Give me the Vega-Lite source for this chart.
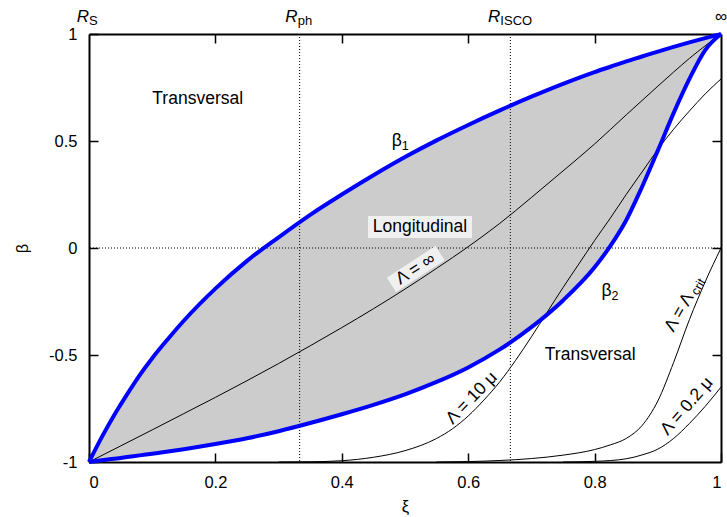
{
  "$schema": "https://vega.github.io/schema/vega-lite/v6.json",
  "width": 632,
  "height": 428,
  "autosize": {"type": "none"},
  "padding": {"left": 89, "top": 34, "right": 6, "bottom": 55},
  "config": {
    "view": {"stroke": null},
    "font": "Liberation Sans",
    "axis": {
      "grid": false,
      "domainColor": "black",
      "domainWidth": 2,
      "tickColor": "black",
      "tickWidth": 1.5,
      "tickSize": -9,
      "labelFont": "Liberation Sans",
      "labelFontSize": 16.5,
      "labelColor": "black",
      "titleFont": "Liberation Sans",
      "titleFontSize": 16.5,
      "titleFontWeight": "normal",
      "titleColor": "black"
    },
    "text": {"font": "Liberation Sans", "fontSize": 16, "color": "black"}
  },
  "datasets": {
    "bounds": [
      {"xi": 0, "b1": -1, "b2": -1},
      {"xi": 0.02, "b1": -0.885, "b2": -0.992},
      {"xi": 0.04, "b1": -0.78, "b2": -0.985},
      {"xi": 0.05, "b1": -0.732, "b2": -0.981},
      {"xi": 0.06, "b1": -0.685, "b2": -0.977},
      {"xi": 0.08, "b1": -0.595, "b2": -0.969},
      {"xi": 0.1, "b1": -0.515, "b2": -0.961},
      {"xi": 0.125, "b1": -0.425, "b2": -0.951},
      {"xi": 0.15, "b1": -0.34, "b2": -0.94},
      {"xi": 0.2, "b1": -0.19, "b2": -0.916},
      {"xi": 0.25, "b1": -0.06, "b2": -0.889},
      {"xi": 0.3, "b1": 0.05, "b2": -0.856},
      {"xi": 0.35, "b1": 0.155, "b2": -0.818},
      {"xi": 0.4, "b1": 0.25, "b2": -0.777},
      {"xi": 0.45, "b1": 0.34, "b2": -0.733},
      {"xi": 0.5, "b1": 0.425, "b2": -0.684},
      {"xi": 0.55, "b1": 0.503, "b2": -0.626},
      {"xi": 0.6, "b1": 0.575, "b2": -0.558},
      {"xi": 0.65, "b1": 0.643, "b2": -0.474},
      {"xi": 0.7, "b1": 0.707, "b2": -0.37},
      {"xi": 0.75, "b1": 0.767, "b2": -0.245},
      {"xi": 0.8, "b1": 0.822, "b2": -0.09},
      {"xi": 0.825, "b1": 0.847, "b2": 0.01},
      {"xi": 0.85, "b1": 0.872, "b2": 0.13},
      {"xi": 0.875, "b1": 0.895, "b2": 0.285},
      {"xi": 0.9, "b1": 0.918, "b2": 0.455},
      {"xi": 0.925, "b1": 0.94, "b2": 0.63},
      {"xi": 0.95, "b1": 0.961, "b2": 0.79},
      {"xi": 0.975, "b1": 0.981, "b2": 0.925},
      {"xi": 1, "b1": 1, "b2": 1}
    ],
    "lambda": [
      {"c": "inf", "xi": 0, "b": -1},
      {"c": "inf", "xi": 0.05, "b": -0.925},
      {"c": "inf", "xi": 0.1, "b": -0.85},
      {"c": "inf", "xi": 0.15, "b": -0.774},
      {"c": "inf", "xi": 0.2, "b": -0.698},
      {"c": "inf", "xi": 0.25, "b": -0.62},
      {"c": "inf", "xi": 0.3, "b": -0.54},
      {"c": "inf", "xi": 0.35, "b": -0.457},
      {"c": "inf", "xi": 0.4, "b": -0.372},
      {"c": "inf", "xi": 0.45, "b": -0.284},
      {"c": "inf", "xi": 0.5, "b": -0.192},
      {"c": "inf", "xi": 0.55, "b": -0.095},
      {"c": "inf", "xi": 0.6, "b": 0.006},
      {"c": "inf", "xi": 0.65, "b": 0.115},
      {"c": "inf", "xi": 0.7, "b": 0.236},
      {"c": "inf", "xi": 0.75, "b": 0.36},
      {"c": "inf", "xi": 0.8, "b": 0.486},
      {"c": "inf", "xi": 0.85, "b": 0.622},
      {"c": "inf", "xi": 0.9, "b": 0.756},
      {"c": "inf", "xi": 0.925, "b": 0.822},
      {"c": "inf", "xi": 0.95, "b": 0.886},
      {"c": "inf", "xi": 0.975, "b": 0.945},
      {"c": "inf", "xi": 1, "b": 1},
      {"c": "l10", "xi": 0.3, "b": -1},
      {"c": "l10", "xi": 0.35, "b": -0.999},
      {"c": "l10", "xi": 0.4, "b": -0.994},
      {"c": "l10", "xi": 0.45, "b": -0.978},
      {"c": "l10", "xi": 0.5, "b": -0.947},
      {"c": "l10", "xi": 0.55, "b": -0.89},
      {"c": "l10", "xi": 0.575, "b": -0.845},
      {"c": "l10", "xi": 0.6, "b": -0.785},
      {"c": "l10", "xi": 0.625, "b": -0.71},
      {"c": "l10", "xi": 0.65, "b": -0.625},
      {"c": "l10", "xi": 0.675, "b": -0.525},
      {"c": "l10", "xi": 0.7, "b": -0.415},
      {"c": "l10", "xi": 0.725, "b": -0.3},
      {"c": "l10", "xi": 0.75, "b": -0.185},
      {"c": "l10", "xi": 0.775, "b": -0.075},
      {"c": "l10", "xi": 0.8, "b": 0.035},
      {"c": "l10", "xi": 0.825, "b": 0.14},
      {"c": "l10", "xi": 0.85, "b": 0.25},
      {"c": "l10", "xi": 0.875, "b": 0.355},
      {"c": "l10", "xi": 0.9, "b": 0.46},
      {"c": "l10", "xi": 0.925, "b": 0.555},
      {"c": "l10", "xi": 0.95, "b": 0.64},
      {"c": "l10", "xi": 0.975, "b": 0.72},
      {"c": "l10", "xi": 1, "b": 0.79},
      {"c": "crit", "xi": 0.55, "b": -1},
      {"c": "crit", "xi": 0.6, "b": -0.998},
      {"c": "crit", "xi": 0.65, "b": -0.993},
      {"c": "crit", "xi": 0.7, "b": -0.984},
      {"c": "crit", "xi": 0.75, "b": -0.968},
      {"c": "crit", "xi": 0.8, "b": -0.942},
      {"c": "crit", "xi": 0.825, "b": -0.92},
      {"c": "crit", "xi": 0.85, "b": -0.89},
      {"c": "crit", "xi": 0.875, "b": -0.83},
      {"c": "crit", "xi": 0.9, "b": -0.715},
      {"c": "crit", "xi": 0.925, "b": -0.535},
      {"c": "crit", "xi": 0.95, "b": -0.335},
      {"c": "crit", "xi": 0.975, "b": -0.158},
      {"c": "crit", "xi": 1, "b": 0.0},
      {"c": "p2", "xi": 0.75, "b": -1},
      {"c": "p2", "xi": 0.8, "b": -0.997},
      {"c": "p2", "xi": 0.85, "b": -0.985},
      {"c": "p2", "xi": 0.875, "b": -0.967},
      {"c": "p2", "xi": 0.9, "b": -0.94},
      {"c": "p2", "xi": 0.925, "b": -0.89},
      {"c": "p2", "xi": 0.95, "b": -0.82},
      {"c": "p2", "xi": 0.975, "b": -0.74},
      {"c": "p2", "xi": 1, "b": -0.65}
    ]
  },
  "resolve": {"axis": {"x": "independent", "y": "independent"}},
  "layer": [
    {
      "data": {"name": "bounds"},
      "mark": {"type": "area", "color": "#cccccc", "interpolate": "monotone"},
      "encoding": {
        "x": {
          "field": "xi", "type": "quantitative",
          "scale": {"domain": [0, 1], "nice": false, "zero": false},
          "axis": {"orient": "bottom", "title": "ξ", "values": [0, 0.2, 0.4, 0.6, 0.8, 1], "labelExpr": "'' + datum.value", "labelPadding": 21, "titlePadding": 8}
        },
        "y": {
          "field": "b1", "type": "quantitative",
          "scale": {"domain": [-1, 1], "nice": false, "zero": false},
          "axis": {"orient": "left", "title": "β", "values": [-1, -0.5, 0, 0.5, 1], "labelExpr": "'' + datum.value", "labelPadding": 21, "titlePadding": 18}
        },
        "y2": {"field": "b2"}
      }
    },
    {
      "data": {"values": [{"xi": 0.3333}, {"xi": 0.6667}]},
      "mark": {"type": "rule", "color": "black", "strokeWidth": 1, "strokeDash": [1, 2]},
      "encoding": {
        "x": {"field": "xi", "type": "quantitative", "axis": {"orient": "top", "title": null, "labels": false, "values": [0.2, 0.4, 0.6, 0.8]}}
      }
    },
    {
      "data": {"values": [{"b": 0}]},
      "mark": {"type": "rule", "color": "black", "strokeWidth": 1, "strokeDash": [1, 2]},
      "encoding": {
        "y": {"field": "b", "type": "quantitative", "axis": {"orient": "right", "title": null, "labels": false, "values": [-0.5, 0, 0.5]}}
      }
    },
    {
      "data": {"name": "lambda"},
      "mark": {"type": "line", "color": "black", "strokeWidth": 1, "interpolate": "monotone", "clip": true},
      "encoding": {
        "x": {"field": "xi", "type": "quantitative", "axis": null},
        "y": {"field": "b", "type": "quantitative", "axis": null},
        "detail": {"field": "c"}
      }
    },
    {
      "data": {"name": "bounds"},
      "mark": {"type": "line", "color": "#0000ff", "strokeWidth": 4, "interpolate": "monotone"},
      "encoding": {
        "x": {"field": "xi", "type": "quantitative", "axis": null},
        "y": {"field": "b1", "type": "quantitative", "axis": null}
      }
    },
    {
      "data": {"name": "bounds"},
      "mark": {"type": "line", "color": "#0000ff", "strokeWidth": 4, "interpolate": "monotone"},
      "encoding": {
        "x": {"field": "xi", "type": "quantitative", "axis": null},
        "y": {"field": "b2", "type": "quantitative", "axis": null}
      }
    },
    {
      "data": {"values": [
        {"xa": 0.4415, "ya": 0.098, "xb": 0.606, "yb": 0.098}
      ]},
      "mark": {"type": "rule", "color": "#f0f0f0", "strokeWidth": 22, "strokeCap": "butt"},
      "encoding": {
        "x": {"field": "xa", "type": "quantitative", "axis": null},
        "y": {"field": "ya", "type": "quantitative", "axis": null},
        "x2": {"field": "xb"},
        "y2": {"field": "yb"}
      }
    },
    {
      "data": {"values": [
        {"xa": 0.4785, "ya": -0.1718, "xb": 0.5555, "yb": -0.0242}
      ]},
      "mark": {"type": "rule", "color": "#f0f0f0", "strokeWidth": 17, "strokeCap": "butt"},
      "encoding": {
        "x": {"field": "xa", "type": "quantitative", "axis": null},
        "y": {"field": "ya", "type": "quantitative", "axis": null},
        "x2": {"field": "xb"},
        "y2": {"field": "yb"}
      }
    },
    {
      "data": {"values": [
        {"xi": 0.172, "b": 0.694, "t": "Transversal"},
        {"xi": 0.793, "b": -0.5, "t": "Transversal"},
        {"xi": 0.5237, "b": 0.098, "t": "Longitudinal"}
      ]},
      "mark": {"type": "text", "align": "center", "baseline": "middle", "fontSize": 17.5},
      "encoding": {
        "x": {"field": "xi", "type": "quantitative", "axis": null},
        "y": {"field": "b", "type": "quantitative", "axis": null},
        "text": {"field": "t"}
      }
    },
    {
      "data": {"values": [
        {"xi": 0.479, "b": 0.5, "t": "β", "s": "1"},
        {"xi": 0.811, "b": -0.2, "t": "β", "s": "2"}
      ]},
      "layer": [
        {
          "mark": {"type": "text", "align": "left", "baseline": "middle", "fontSize": 17.5},
          "encoding": {
            "x": {"field": "xi", "type": "quantitative", "axis": null},
            "y": {"field": "b", "type": "quantitative", "axis": null},
            "text": {"field": "t"}
          }
        },
        {
          "mark": {"type": "text", "align": "left", "baseline": "middle", "fontSize": 12.5, "dx": 10, "dy": 5},
          "encoding": {
            "x": {"field": "xi", "type": "quantitative", "axis": null},
            "y": {"field": "b", "type": "quantitative", "axis": null},
            "text": {"field": "s"}
          }
        }
      ]
    },
    {
      "data": {"values": [{"xi": 0.517, "b": -0.098, "t": "Λ = ∞"}]},
      "mark": {"type": "text", "align": "center", "baseline": "middle", "fontSize": 17.5, "angle": 327},
      "encoding": {
        "x": {"field": "xi", "type": "quantitative", "axis": null},
        "y": {"field": "b", "type": "quantitative", "axis": null},
        "text": {"field": "t"}
      }
    },
    {
      "data": {"values": [{"xi": 0.6055, "b": -0.702, "t": "Λ = 10 μ"}]},
      "mark": {"type": "text", "align": "center", "baseline": "middle", "fontSize": 17.5, "angle": 314},
      "encoding": {
        "x": {"field": "xi", "type": "quantitative", "axis": null},
        "y": {"field": "b", "type": "quantitative", "axis": null},
        "text": {"field": "t"}
      }
    },
    {
      "data": {"values": [{"xi": 0.946, "b": -0.74, "t": "Λ = 0.2 μ"}]},
      "mark": {"type": "text", "align": "center", "baseline": "middle", "fontSize": 17.5, "angle": 311},
      "encoding": {
        "x": {"field": "xi", "type": "quantitative", "axis": null},
        "y": {"field": "b", "type": "quantitative", "axis": null},
        "text": {"field": "t"}
      }
    },
    {
      "data": {"values": [{"xi": 0.918, "b": -0.385, "t": "Λ = Λ", "s": "crit"}]},
      "layer": [
        {
          "mark": {"type": "text", "align": "left", "baseline": "middle", "fontSize": 17.5, "angle": 299.5},
          "encoding": {
            "x": {"field": "xi", "type": "quantitative", "axis": null},
            "y": {"field": "b", "type": "quantitative", "axis": null},
            "text": {"field": "t"}
          }
        },
        {
          "mark": {"type": "text", "align": "left", "baseline": "middle", "fontSize": 12.5, "angle": 299.5, "dx": 44, "dy": 4},
          "encoding": {
            "x": {"field": "xi", "type": "quantitative", "axis": null},
            "y": {"field": "b", "type": "quantitative", "axis": null},
            "text": {"field": "s"}
          }
        }
      ]
    },
    {
      "data": {"values": [{"xi": 0, "b": 1, "t": "R", "s": "S"}]},
      "layer": [
        {
          "mark": {"type": "text", "align": "right", "baseline": "middle", "fontSize": 17, "fontStyle": "italic", "dx": 0, "dy": -17},
          "encoding": {
            "x": {"field": "xi", "type": "quantitative", "axis": null},
            "y": {"field": "b", "type": "quantitative", "axis": null},
            "text": {"field": "t"}
          }
        },
        {
          "mark": {"type": "text", "align": "left", "baseline": "middle", "fontSize": 13, "dx": 0, "dy": -13},
          "encoding": {
            "x": {"field": "xi", "type": "quantitative", "axis": null},
            "y": {"field": "b", "type": "quantitative", "axis": null},
            "text": {"field": "s"}
          }
        }
      ]
    },
    {
      "data": {"values": [{"xi": 0.3333, "b": 1, "t": "R", "s": "ph"}]},
      "layer": [
        {
          "mark": {"type": "text", "align": "right", "baseline": "middle", "fontSize": 17, "fontStyle": "italic", "dx": -2, "dy": -17},
          "encoding": {
            "x": {"field": "xi", "type": "quantitative", "axis": null},
            "y": {"field": "b", "type": "quantitative", "axis": null},
            "text": {"field": "t"}
          }
        },
        {
          "mark": {"type": "text", "align": "left", "baseline": "middle", "fontSize": 13, "dx": -2, "dy": -13},
          "encoding": {
            "x": {"field": "xi", "type": "quantitative", "axis": null},
            "y": {"field": "b", "type": "quantitative", "axis": null},
            "text": {"field": "s"}
          }
        }
      ]
    },
    {
      "data": {"values": [{"xi": 0.6667, "b": 1, "t": "R", "s": "ISCO"}]},
      "layer": [
        {
          "mark": {"type": "text", "align": "right", "baseline": "middle", "fontSize": 17, "fontStyle": "italic", "dx": -10, "dy": -17},
          "encoding": {
            "x": {"field": "xi", "type": "quantitative", "axis": null},
            "y": {"field": "b", "type": "quantitative", "axis": null},
            "text": {"field": "t"}
          }
        },
        {
          "mark": {"type": "text", "align": "left", "baseline": "middle", "fontSize": 13, "dx": -10, "dy": -13},
          "encoding": {
            "x": {"field": "xi", "type": "quantitative", "axis": null},
            "y": {"field": "b", "type": "quantitative", "axis": null},
            "text": {"field": "s"}
          }
        }
      ]
    },
    {
      "data": {"values": [{"xi": 1, "b": 1, "t": "∞"}]},
      "mark": {"type": "text", "align": "center", "baseline": "middle", "fontSize": 17, "dy": -17},
      "encoding": {
        "x": {"field": "xi", "type": "quantitative", "axis": null},
        "y": {"field": "b", "type": "quantitative", "axis": null},
        "text": {"field": "t"}
      }
    }
  ]
}
